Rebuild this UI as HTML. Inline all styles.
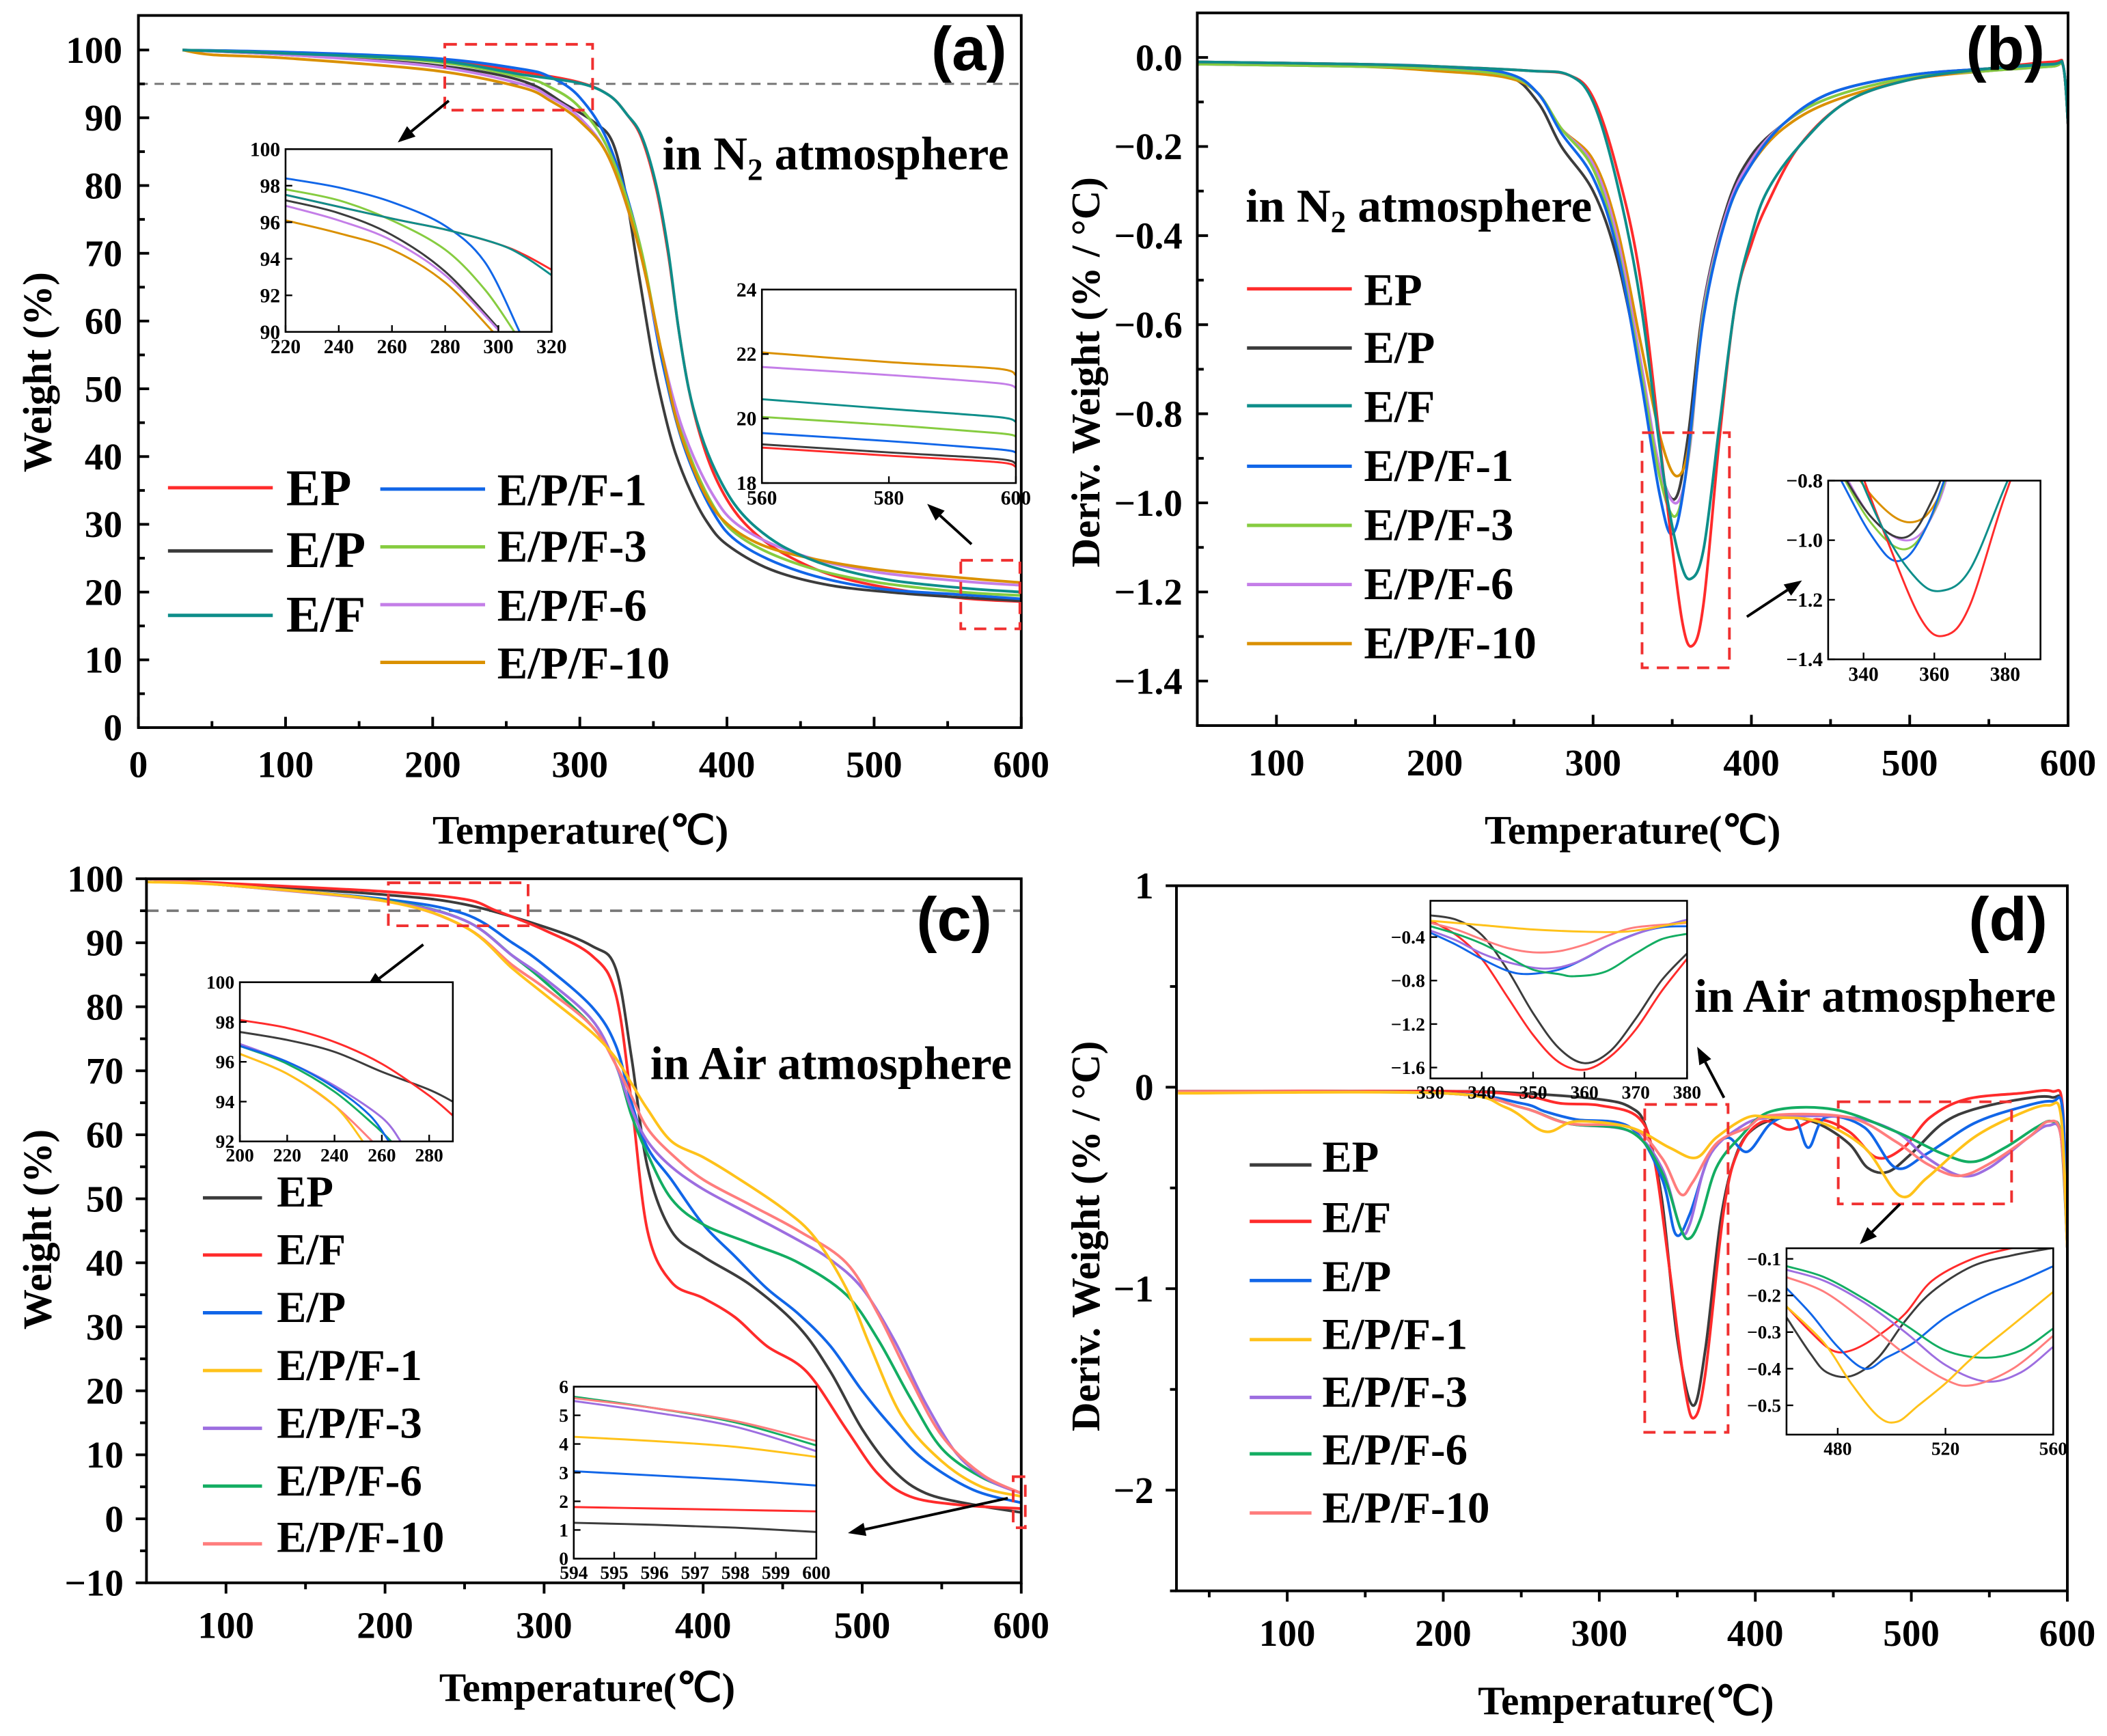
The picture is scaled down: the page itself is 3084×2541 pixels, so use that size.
<!DOCTYPE html>
<html><head><meta charset="utf-8"><title>TGA / DTG figure</title>
<style>
html,body{margin:0;padding:0;background:#fff;}
svg{display:block;}
text{font-family:"Liberation Serif",serif;font-weight:bold;fill:#000;}
.sans{font-family:"Liberation Sans",sans-serif;}
</style></head>
<body>
<svg id="fig" xmlns="http://www.w3.org/2000/svg" width="3084" height="2541" viewBox="0 0 1568 1292" preserveAspectRatio="none">
<rect x="0" y="0" width="1568" height="1292" fill="#fff"/>
<defs id="defs"></defs>
</svg>
<script>
// ===== Panel (a): TGA in N2 =====
const aEP   = [[30,100],[100,99.6],[200,98.6],[260,96.8],[300,95.2],[320,93.3],[332,90.5],[342,87],[352,79.5],[360,70],[367,59],[374,50],[382,43],[392,37],[405,32],[420,28.5],[440,25.5],[470,22.6],[510,20.6],[560,19.1],[600,18.6]];
const aEF   = [[30,100],[100,99.5],[200,98.5],[260,96.4],[300,95.1],[320,93.3],[332,90.5],[342,87.3],[352,80],[360,70.5],[367,59],[374,50],[382,43.5],[392,38],[405,33],[420,29.5],[440,26.5],[470,23.8],[510,21.8],[560,20.6],[600,20]];
const aEPo  = [[30,100],[100,99.3],[200,97.8],[260,95.5],[290,92],[310,89.3],[322,86.5],[331,79],[340,67],[350,54],[358,46],[365,40.5],[375,35],[386,30.5],[400,27],[430,23.3],[470,21],[520,19.8],[560,19.2],[600,18.7]];
const aF1   = [[30,100],[100,99.7],[200,98.8],[260,97.2],[280,96],[300,93],[320,86],[340,72],[355,55],[370,42],[390,32],[410,27],[450,23],[500,20.6],[560,19.6],[600,19]];
const aF3   = [[30,100],[100,99.5],[200,98.3],[260,96],[280,94.5],[300,91.5],[320,85],[340,72],[355,56],[370,43],[390,33],[410,28],[450,24],[500,21.5],[560,20],[600,19.5]];
const aF6   = [[30,100],[100,99.3],[200,97.6],[260,95],[280,93],[300,90],[320,84],[340,71],[355,56],[370,44],[390,34.5],[410,29.5],[450,25.5],[500,23],[560,21.6],[600,21]];
const aF10  = [[30,100],[50,99.3],[100,98.8],[200,97],[260,94.5],[280,92.5],[300,89.5],[320,84],[340,71],[356,55],[365,46],[374,40],[385,34.5],[398,30.5],[420,27.3],[450,25.3],[500,23.4],[560,22.1],[600,21.4]];
const aIn1EP  = [[220,97.5],[260,96.2],[280,95.6],[300,94.8],[310,94.2],[320,93.4]];
const aIn1EF  = [[220,97.5],[260,96.2],[280,95.6],[300,94.8],[310,94.1],[320,93.1]];
const aIn1EPo = [[220,97.2],[240,96.5],[260,95.3],[280,93.3],[300,90.2]];
const aIn1F1  = [[220,98.4],[240,97.9],[260,97.1],[280,95.8],[295,93.8],[308,90]];
const aIn1F3  = [[220,97.8],[240,97.2],[260,96.1],[280,94.5],[295,92.3],[306,90]];
const aIn1F6  = [[220,96.9],[240,96.1],[260,95],[280,93.1],[300,90.1]];
const aIn1F10 = [[220,96.1],[240,95.4],[260,94.5],[280,92.7],[298,90]];
const aIn2EP  = [[560,19.1],[580,18.85],[597,18.65],[600,18.5]];
const aIn2EPo = [[560,19.2],[580,18.95],[597,18.75],[600,18.6]];
const aIn2EF  = [[560,20.6],[580,20.3],[597,20.05],[600,19.9]];
const aIn2F1  = [[560,19.55],[580,19.3],[597,19.05],[600,18.95]];
const aIn2F3  = [[560,20.05],[580,19.8],[597,19.55],[600,19.45]];
const aIn2F6  = [[560,21.6],[580,21.35],[597,21.1],[600,20.95]];
const aIn2F10 = [[560,22.05],[580,21.75],[597,21.55],[600,21.35]];
const aXTicks = [0,100,200,300,400,500,600];
const aXLabels = ["0","100","200","300","400","500","600"];
const aYTicks = [0,10,20,30,40,50,60,70,80,90,100];
const aYLabels = ["0","10","20","30","40","50","60","70","80","90","100"];

// ===== Panel (b): DTG in N2 =====
const bEP  = [[50,-0.01],[150,-0.015],[200,-0.02],[260,-0.03],[285,-0.04],[300,-0.09],[315,-0.25],[330,-0.5],[345,-0.95],[356,-1.26],[363,-1.32],[370,-1.22],[380,-0.85],[390,-0.55],[400,-0.42],[410,-0.33],[430,-0.2],[460,-0.1],[500,-0.05],[550,-0.025],[590,-0.01],[597,-0.02],[600,-0.15]];
const bEF  = [[50,-0.01],[150,-0.015],[200,-0.02],[260,-0.03],[285,-0.04],[300,-0.1],[315,-0.28],[330,-0.55],[345,-0.95],[355,-1.13],[362,-1.17],[370,-1.1],[380,-0.82],[390,-0.55],[400,-0.4],[410,-0.3],[430,-0.2],[460,-0.1],[500,-0.05],[550,-0.025],[590,-0.015],[597,-0.02],[600,-0.15]];
const bEPo = [[50,-0.015],[150,-0.02],[200,-0.025],[245,-0.04],[265,-0.1],[280,-0.2],[300,-0.3],[315,-0.45],[330,-0.7],[342,-0.92],[352,-0.99],[360,-0.85],[370,-0.55],[385,-0.33],[400,-0.22],[420,-0.15],[450,-0.08],[500,-0.04],[550,-0.025],[590,-0.015],[597,-0.02],[600,-0.15]];
const bF1  = [[50,-0.01],[150,-0.015],[200,-0.02],[245,-0.035],[265,-0.08],[280,-0.17],[300,-0.27],[315,-0.43],[330,-0.72],[342,-0.98],[350,-1.07],[358,-0.95],[370,-0.58],[385,-0.35],[400,-0.24],[420,-0.15],[450,-0.08],[500,-0.04],[550,-0.025],[590,-0.015],[597,-0.02],[600,-0.15]];
const bF3  = [[50,-0.015],[150,-0.02],[200,-0.025],[245,-0.04],[265,-0.08],[280,-0.16],[300,-0.25],[315,-0.42],[330,-0.7],[342,-0.94],[352,-1.03],[360,-0.9],[370,-0.57],[385,-0.35],[400,-0.24],[420,-0.15],[450,-0.09],[500,-0.045],[550,-0.03],[590,-0.02],[597,-0.02],[600,-0.15]];
const bF6  = [[50,-0.015],[150,-0.02],[200,-0.025],[245,-0.04],[265,-0.08],[280,-0.16],[300,-0.24],[315,-0.4],[330,-0.68],[342,-0.92],[353,-1.0],[361,-0.88],[370,-0.56],[385,-0.34],[400,-0.23],[420,-0.15],[450,-0.09],[500,-0.045],[550,-0.03],[590,-0.02],[597,-0.02],[600,-0.15]];
const bF10 = [[50,-0.05],[53,-0.015],[150,-0.02],[200,-0.03],[245,-0.045],[265,-0.08],[280,-0.16],[300,-0.23],[315,-0.38],[330,-0.64],[343,-0.86],[353,-0.94],[361,-0.86],[370,-0.56],[385,-0.34],[400,-0.24],[420,-0.16],[450,-0.1],[500,-0.05],[550,-0.03],[590,-0.02],[597,-0.02],[600,-0.15]];
const bXTicks = [100,200,300,400,500,600];
const bXLabels = ["100","200","300","400","500","600"];
const bYTicks = [0,-0.2,-0.4,-0.6,-0.8,-1.0,-1.2,-1.4];
const bYLabels = ["0.0","\u22120.2","\u22120.4","\u22120.6","\u22120.8","\u22121.0","\u22121.2","\u22121.4"];
const bInXTicks = [340,360,380];
const bInXLabels = ["340","360","380"];
const bInYTicks = [-0.8,-1.0,-1.2,-1.4];
const bInYLabels = ["\u22120.8","\u22121.0","\u22121.2","\u22121.4"];

// ===== Panel (c): TGA in Air =====
const cEP  = [[50,100],[100,99.2],[200,97.5],[250,96],[300,92.5],[330,89.5],[345,86],[355,72],[365,55],[380,45],[400,41],[430,36.5],[460,30],[480,23],[500,14],[520,7.5],[540,4],[570,2.2],[600,1.0]];
const cEF  = [[50,100],[100,99.3],[200,98],[250,96.8],[270,95],[300,92],[330,88],[345,82],[355,65],[365,45],[380,37],[400,34.5],[420,31.5],[440,27],[465,23],[490,14],[510,7],[530,3.5],[560,2.2],[600,1.6]];
const cEPo = [[50,100],[100,99],[200,96.8],[250,94.5],[280,90],[300,86.5],[330,80],[345,74],[355,65],[365,58],[380,53],[400,46],[420,41],[440,36],[460,32],[480,27],[500,20],[520,14],[540,9],[570,4.5],[600,2.5]];
const cF1  = [[50,99.5],[100,99],[200,96.5],[250,92.5],[280,86],[300,82],[330,76],[345,72],[355,68],[365,64],[380,59],[400,56.5],[420,53.5],[450,48.5],[470,44],[490,36],[505,27],[525,16],[550,9],[575,5],[600,3.5]];
const cF3  = [[50,100],[100,99],[200,96.5],[250,93.5],[280,88],[300,84.5],[330,78],[345,71],[355,64],[365,59],[380,55],[400,51.5],[430,47.5],[460,43.5],[480,40.5],[500,36],[520,28],[540,18],[560,10],[580,6],[600,4]];
const cF6  = [[50,100],[100,99],[200,96.6],[250,93.5],[280,88],[300,84],[330,77],[345,71],[355,63],[365,57],[380,50],[400,46],[430,43],[460,40],[490,35],[510,28],[530,19],[550,11],[575,6.5],[600,4]];
const cF10 = [[50,100],[100,99],[200,96.5],[250,92.5],[280,86.5],[300,83],[330,77],[345,71],[355,66],[365,61],[380,57],[400,53],[430,49],[460,45],[490,40],[510,32],[530,22],[550,13],[575,7],[600,4]];
const cIn1EP  = [[200,97.5],[220,97.1],[240,96.5],[260,95.5],[280,94.6],[290,94]];
const cIn1EF  = [[200,98.1],[220,97.7],[240,97],[260,95.9],[280,94.3],[290,93.3]];
const cIn1EPo = [[200,96.8],[220,96],[240,94.7],[255,93.3],[263,92]];
const cIn1F1  = [[200,96.4],[220,95.4],[240,93.8],[252,92]];
const cIn1F3  = [[200,96.9],[220,96],[240,94.8],[260,93.2],[268,92]];
const cIn1F6  = [[200,96.8],[220,95.9],[240,94.5],[257,92.8],[264,92]];
const cIn1F10 = [[200,96.4],[220,95.4],[240,93.8],[256,92]];
const cIn2EP  = [[594,1.25],[596,1.18],[598,1.08],[600,0.93]];
const cIn2EF  = [[594,1.8],[596,1.75],[598,1.7],[600,1.65]];
const cIn2EPo = [[594,3.05],[596,2.9],[598,2.75],[600,2.55]];
const cIn2F1  = [[594,4.25],[596,4.1],[598,3.9],[600,3.55]];
const cIn2F3  = [[594,5.5],[596,5.1],[598,4.6],[600,3.75]];
const cIn2F6  = [[594,5.65],[596,5.25],[598,4.75],[600,3.95]];
const cIn2F10 = [[594,5.6],[596,5.25],[598,4.8],[600,4.1]];
const cXTicks = [100,200,300,400,500,600];
const cXLabels = ["100","200","300","400","500","600"];
const cYTicks = [-10,0,10,20,30,40,50,60,70,80,90,100];
const cYLabels = ["\u221210","0","10","20","30","40","50","60","70","80","90","100"];

// ===== Panel (d): DTG in Air =====
const dEP  = [[30,-0.02],[200,-0.02],[250,-0.03],[300,-0.06],[320,-0.1],[330,-0.2],[340,-0.55],[350,-1.25],[360,-1.58],[368,-1.3],[378,-0.65],[388,-0.33],[400,-0.2],[420,-0.15],[440,-0.18],[460,-0.28],[472,-0.4],[485,-0.42],[500,-0.33],[520,-0.18],[540,-0.11],[570,-0.06],[590,-0.05],[597,-0.12],[600,-0.8]];
const dEF  = [[30,-0.02],[200,-0.02],[250,-0.04],[275,-0.08],[300,-0.09],[325,-0.15],[335,-0.35],[345,-0.9],[355,-1.5],[361,-1.64],[368,-1.42],[380,-0.6],[390,-0.3],[405,-0.17],[422,-0.21],[440,-0.16],[460,-0.22],[478,-0.35],[495,-0.3],[512,-0.15],[535,-0.06],[570,-0.03],[590,-0.02],[597,-0.1],[600,-0.8]];
const dEPo = [[30,-0.02],[200,-0.03],[250,-0.08],[265,-0.12],[285,-0.16],[320,-0.2],[340,-0.45],[349,-0.73],[358,-0.63],[370,-0.35],[382,-0.25],[395,-0.32],[410,-0.18],[425,-0.15],[434,-0.3],[445,-0.15],[470,-0.2],[490,-0.4],[510,-0.33],[540,-0.18],[570,-0.1],[590,-0.07],[597,-0.12],[600,-0.8]];
const dF1  = [[30,-0.03],[200,-0.03],[240,-0.1],[265,-0.22],[285,-0.17],[320,-0.2],[345,-0.3],[362,-0.35],[375,-0.25],[395,-0.15],[410,-0.15],[440,-0.17],[470,-0.3],[493,-0.54],[510,-0.45],[540,-0.25],[570,-0.13],[588,-0.09],[596,-0.15],[600,-0.8]];
const dF3  = [[30,-0.02],[200,-0.03],[250,-0.1],[280,-0.18],[320,-0.22],[340,-0.4],[352,-0.7],[358,-0.68],[370,-0.35],[390,-0.2],[410,-0.15],[460,-0.15],[490,-0.22],[510,-0.35],[532,-0.44],[550,-0.4],[575,-0.25],[588,-0.19],[596,-0.25],[600,-0.8]];
const dF6  = [[30,-0.02],[200,-0.03],[250,-0.1],[280,-0.18],[320,-0.22],[340,-0.42],[352,-0.7],[358,-0.75],[365,-0.65],[375,-0.4],[390,-0.25],[410,-0.12],[450,-0.11],[490,-0.22],[520,-0.33],[540,-0.37],[560,-0.3],[580,-0.2],[590,-0.17],[596,-0.25],[600,-0.8]];
const dF10 = [[30,-0.02],[200,-0.03],[250,-0.1],[280,-0.18],[320,-0.2],[340,-0.35],[352,-0.53],[360,-0.47],[375,-0.28],[395,-0.2],[410,-0.14],[460,-0.15],[490,-0.27],[510,-0.38],[530,-0.44],[550,-0.38],[575,-0.25],[588,-0.17],[596,-0.25],[600,-0.8]];
const dIn1EP  = [[330,-0.2],[335,-0.24],[340,-0.38],[345,-0.7],[350,-1.1],[355,-1.42],[360,-1.56],[365,-1.45],[370,-1.15],[375,-0.8],[380,-0.55]];
const dIn1EF  = [[330,-0.25],[335,-0.38],[340,-0.6],[345,-0.95],[350,-1.3],[355,-1.55],[360,-1.62],[365,-1.5],[370,-1.25],[375,-0.9],[380,-0.6]];
const dIn1EPo = [[330,-0.36],[335,-0.47],[340,-0.6],[345,-0.71],[349,-0.74],[355,-0.7],[360,-0.6],[365,-0.47],[370,-0.37],[375,-0.31],[380,-0.3]];
const dIn1F1  = [[330,-0.25],[340,-0.29],[350,-0.33],[360,-0.35],[368,-0.35],[375,-0.3],[380,-0.26]];
const dIn1F3  = [[330,-0.34],[335,-0.43],[340,-0.55],[345,-0.63],[352,-0.69],[358,-0.64],[365,-0.47],[372,-0.34],[380,-0.24]];
const dIn1F6  = [[330,-0.3],[335,-0.37],[340,-0.46],[345,-0.58],[350,-0.7],[355,-0.74],[358,-0.76],[364,-0.72],[370,-0.55],[375,-0.42],[380,-0.37]];
const dIn1F10 = [[330,-0.27],[335,-0.33],[340,-0.42],[345,-0.5],[350,-0.54],[355,-0.53],[360,-0.47],[365,-0.38],[370,-0.31],[380,-0.27]];
const dIn2EP  = [[461,-0.26],[470,-0.36],[476,-0.41],[485,-0.42],[495,-0.37],[505,-0.27],[515,-0.19],[530,-0.12],[545,-0.09],[560,-0.07]];
const dIn2EF  = [[461,-0.23],[470,-0.3],[478,-0.35],[485,-0.35],[495,-0.31],[505,-0.25],[515,-0.16],[530,-0.1],[545,-0.07],[560,-0.05]];
const dIn2EPo = [[461,-0.18],[470,-0.25],[480,-0.34],[490,-0.4],[498,-0.37],[508,-0.33],[520,-0.26],[535,-0.2],[548,-0.16],[560,-0.12]];
const dIn2F1  = [[461,-0.23],[475,-0.33],[485,-0.44],[495,-0.53],[502,-0.545],[510,-0.5],[520,-0.44],[530,-0.37],[545,-0.28],[560,-0.19]];
const dIn2F3  = [[461,-0.13],[475,-0.16],[490,-0.22],[505,-0.3],[520,-0.39],[535,-0.435],[548,-0.41],[560,-0.34]];
const dIn2F6  = [[461,-0.12],[475,-0.15],[490,-0.21],[505,-0.28],[520,-0.35],[535,-0.37],[548,-0.35],[560,-0.29]];
const dIn2F10 = [[461,-0.15],[475,-0.19],[490,-0.27],[505,-0.36],[520,-0.43],[530,-0.445],[545,-0.4],[560,-0.31]];
const dXTicks = [100,200,300,400,500,600];
const dXLabels = ["100","200","300","400","500","600"];
const dYTicks = [1,0,-1,-2];
const dYLabels = ["1","0","\u22121","\u22122"];

const NS = "http://www.w3.org/2000/svg";
const svg = document.getElementById('fig');
const defs = document.getElementById('defs');
let clipId = 0;

function mk(tag, attrs, parent) {
  const e = document.createElementNS(NS, tag);
  for (const k in attrs) e.setAttribute(k, attrs[k]);
  (parent || svg).appendChild(e);
  return e;
}
function scale(cfg) {
  cfg.sx = v => cfg.x0 + (v - cfg.xmin) / (cfg.xmax - cfg.xmin) * (cfg.x1 - cfg.x0);
  cfg.sy = v => cfg.y1 - (v - cfg.ymin) / (cfg.ymax - cfg.ymin) * (cfg.y1 - cfg.y0);
  clipId++;
  cfg.clip = 'clip' + clipId;
  const cp = mk('clipPath', {id: cfg.clip}, defs);
  mk('rect', {x: cfg.x0, y: cfg.y0, width: cfg.x1 - cfg.x0, height: cfg.y1 - cfg.y0}, cp);
  return cfg;
}
function smoothPath(pts) {
  let d = 'M' + pts[0][0].toFixed(2) + ',' + pts[0][1].toFixed(2);
  for (let i = 0; i < pts.length - 1; i++) {
    const p0 = pts[i - 1] || pts[i], p1 = pts[i], p2 = pts[i + 1], p3 = pts[i + 2] || p2;
    const c1x = p1[0] + (p2[0] - p0[0]) / 6, c1y = p1[1] + (p2[1] - p0[1]) / 6;
    const c2x = p2[0] - (p3[0] - p1[0]) / 6, c2y = p2[1] - (p3[1] - p1[1]) / 6;
    d += 'C' + c1x.toFixed(2) + ',' + c1y.toFixed(2) + ' ' + c2x.toFixed(2) + ',' + c2y.toFixed(2) + ' ' + p2[0].toFixed(2) + ',' + p2[1].toFixed(2);
  }
  return d;
}
function series(cfg, data, color, name, w) {
  const pts = data.map(p => [cfg.sx(p[0]), cfg.sy(p[1])]);
  const e = mk('path', {d: smoothPath(pts), fill: 'none', stroke: color, 'stroke-width': w || 2, 'stroke-linejoin': 'round', 'clip-path': 'url(#' + cfg.clip + ')'});
  
  
  return e;
}
function txt(x, y, s, size, anchor, name, cls) {
  const t = mk('text', {x: x, y: y, 'font-size': size, 'text-anchor': anchor || 'start'});
  if (cls) t.setAttribute('class', cls);
  t.textContent = s;
  
  
  return t;
}
function line(x1, y1, x2, y2, color, w, dash, name) {
  const e = mk('line', {x1: x1, y1: y1, x2: x2, y2: y2, stroke: color, 'stroke-width': w});
  if (dash) e.setAttribute('stroke-dasharray', dash);
  
  
  return e;
}
function frame(cfg, name, sw) {
  const r = mk('rect', {x: cfg.x0, y: cfg.y0, width: cfg.x1 - cfg.x0, height: cfg.y1 - cfg.y0, fill: 'none', stroke: '#000', 'stroke-width': sw || 2});
  
  
}
function ticks(cfg, xt, xl, yt, yl, opt) {
  const dir = opt.out ? 1 : -1;
  const L = opt.len || 8;
  xt.forEach((v, i) => {
    const x = cfg.sx(v);
    line(x, cfg.y1, x, cfg.y1 + dir * L, '#000', opt.tw || 2, null, 'x-tick');
    txt(x, cfg.y1 + opt.xoff, xl[i], opt.fs, 'middle', 'x-tick-label');
  });
  (opt.xminor || []).forEach(v => {
    const x = cfg.sx(v);
    line(x, cfg.y1, x, cfg.y1 + dir * L * 0.6, '#000', opt.tw || 2, null, 'x-minor-tick');
  });
  yt.forEach((v, i) => {
    const y = cfg.sy(v);
    line(cfg.x0, y, cfg.x0 - dir * L, y, '#000', opt.tw || 2, null, 'y-tick');
    txt(cfg.x0 - opt.yoff, y + opt.fs * 0.34, yl[i], opt.fs, 'end', 'y-tick-label');
  });
  (opt.yminor || []).forEach(v => {
    const y = cfg.sy(v);
    line(cfg.x0, y, cfg.x0 - dir * L * 0.6, y, '#000', opt.tw || 2, null, 'y-minor-tick');
  });
}
function redBox(x0, y0, x1, y1, name) {
  const r = mk('rect', {x: x0, y: y0, width: x1 - x0, height: y1 - y0, fill: 'none', stroke: '#f03030', 'stroke-width': 2, 'stroke-dasharray': '9,6'});
  
  
}
function arrow(x1, y1, x2, y2, name) {
  const g = mk('g', {});
  
  
  const a = Math.atan2(y2 - y1, x2 - x1), L = 13, W = 5;
  const bx = x2 - L * Math.cos(a), by = y2 - L * Math.sin(a);
  mk('line', {x1: x1, y1: y1, x2: bx, y2: by, stroke: '#000', 'stroke-width': 2}, g);
  mk('polygon', {points: x2 + ',' + y2 + ' ' + (bx + W * Math.sin(a)) + ',' + (by - W * Math.cos(a)) + ' ' + (bx - W * Math.sin(a)) + ',' + (by + W * Math.cos(a)), fill: '#000'}, g);
}
function legend(x0, x1, lineYs, labelX, baseYs, labels, colors, fs, prefix) {
  labels.forEach((s, i) => {
    line(x0, lineYs[i], x1, lineYs[i], colors[i], 2.5, null, prefix + '-legend-line');
    txt(labelX, baseYs[i], s, fs, 'start', prefix + '-legend-label');
  });
}
function range(a, b, s) { const r = []; for (let v = a; v <= b + 1e-9; v += s) r.push(+v.toFixed(6)); return r; }
function rotTitle(x, y, s, size, name) {
  const t = txt(x, y, s, size, 'middle', name);
  t.setAttribute('transform', 'rotate(-90 ' + x + ' ' + y + ')');
}

const C = {red:'#ff2b2b', blk:'#3c3c3c', teal:'#0e8e8a', blue:'#1166e8', lgreen:'#86cc40', lpur:'#c47ee8', orange:'#da9000',
           yel:'#ffc21a', pur:'#9d6ee0', grn:'#13ad62', pink:'#ff7d7d'};

// ---------- Panel a ----------
const A = scale({x0:103, x1:760, y0:11.5, y1:541.5, xmin:0, xmax:600, ymin:0, ymax:105.1});
line(A.x0, A.sy(95), A.x1, A.sy(95), '#777', 1.5, '7,5', 'a-95-percent-line');
series(A, aEP, C.red, 'a-series-ep');
series(A, aEPo, C.blk, 'a-series-ep-p');
series(A, aF1, C.blue, 'a-series-epf1');
series(A, aF3, C.lgreen, 'a-series-epf3');
series(A, aF6, C.lpur, 'a-series-epf6');
series(A, aF10, C.orange, 'a-series-epf10');
series(A, aEF, C.teal, 'a-series-ef');
frame(A, 'a-plot-frame');
ticks(A, aXTicks, aXLabels, aYTicks, aYLabels, {out:false, fs:28, xoff:37, yoff:12, xminor:range(50,550,100), yminor:range(5,95,10)});
txt(693, 52, '(a)', 46, 'start', 'a-panel-label', 'sans');
{ const t = txt(493, 126, 'in N', 35, 'start', 'a-atmosphere-label');
  const s = mk('tspan', {dy: 8, 'font-size': 23}, t); s.textContent = '2';
  const s2 = mk('tspan', {dy: -8}, t); s2.textContent = ' atmosphere'; }
legend(125, 203, [363,410,458], 213, [376,422,470], ['EP','E/P','E/F'], [C.red,C.blk,C.teal], 38, 'a');
legend(283, 361, [364,407,450,493], 370, [376,418,462,505], ['E/P/F-1','E/P/F-3','E/P/F-6','E/P/F-10'], [C.blue,C.lgreen,C.lpur,C.orange], 34, 'a');
txt(432, 628, 'Temperature(\u2103)', 30, 'middle', 'a-x-axis-title');
rotTitle(38, 277, 'Weight (%)', 30, 'a-y-axis-title');
redBox(331, 33, 441, 82, 'a-zoom-box-onset');
redBox(715, 417, 759, 468, 'a-zoom-box-residue');
arrow(334, 75, 296, 106, 'a-arrow-inset1');
arrow(723, 405, 690, 375, 'a-arrow-inset2');
// inset a1
const A1 = scale({x0:212.5, x1:410.5, y0:111, y1:247, xmin:220, xmax:320, ymin:90, ymax:100});
mk('rect', {x:A1.x0, y:A1.y0, width:A1.x1-A1.x0, height:A1.y1-A1.y0, fill:'#fff'});
series(A1, aIn1EPo, C.blk, 'a-inset1-ep-p', 1.5);
series(A1, aIn1F6, C.lpur, 'a-inset1-epf6', 1.5);
series(A1, aIn1F10, C.orange, 'a-inset1-epf10', 1.5);
series(A1, aIn1F3, C.lgreen, 'a-inset1-epf3', 1.5);
series(A1, aIn1F1, C.blue, 'a-inset1-epf1', 1.5);
series(A1, aIn1EP, C.red, 'a-inset1-ep', 1.5);
series(A1, aIn1EF, C.teal, 'a-inset1-ef', 1.5);
frame(A1, 'a-inset1-frame', 1.3);
ticks(A1, range(220,320,20), ['220','240','260','280','300','320'], range(90,100,2), ['90','92','94','96','98','100'], {out:false, len:5, tw:1.2, fs:15, xoff:16, yoff:4});
// inset a2
const A2 = scale({x0:567, x1:756, y0:215.5, y1:359.5, xmin:560, xmax:600, ymin:18, ymax:24});
mk('rect', {x:A2.x0, y:A2.y0, width:A2.x1-A2.x0, height:A2.y1-A2.y0, fill:'#fff'});
series(A2, aIn2F10, C.orange, 'a-inset2-epf10', 1.5);
series(A2, aIn2F6, C.lpur, 'a-inset2-epf6', 1.5);
series(A2, aIn2EF, C.teal, 'a-inset2-ef', 1.5);
series(A2, aIn2F3, C.lgreen, 'a-inset2-epf3', 1.5);
series(A2, aIn2F1, C.blue, 'a-inset2-epf1', 1.5);
series(A2, aIn2EPo, C.blk, 'a-inset2-ep-p', 1.5);
series(A2, aIn2EP, C.red, 'a-inset2-ep', 1.5);
frame(A2, 'a-inset2-frame', 1.3);
ticks(A2, [560,580,600], ['560','580','600'], [18,20,22,24], ['18','20','22','24'], {out:false, len:5, tw:1.2, fs:15, xoff:16, yoff:4});

// ---------- Panel b ----------
const B = scale({x0:891, x1:1539, y0:9.6, y1:540, xmin:50, xmax:600, ymin:-1.5, ymax:0.1});
series(B, bEPo, C.blk, 'b-series-ep-p');
series(B, bF10, C.orange, 'b-series-epf10');
series(B, bF6, C.lpur, 'b-series-epf6');
series(B, bF3, C.lgreen, 'b-series-epf3');
series(B, bF1, C.blue, 'b-series-epf1');
series(B, bEP, C.red, 'b-series-ep');
series(B, bEF, C.teal, 'b-series-ef');
frame(B, 'b-plot-frame');
ticks(B, bXTicks, bXLabels, bYTicks, bYLabels, {out:false, fs:28, xoff:37, yoff:11, xminor:range(150,550,100), yminor:range(-1.5,-0.1,0.2)});
txt(1463, 52, '(b)', 46, 'start', 'b-panel-label', 'sans');
{ const t = txt(927, 165, 'in N', 35, 'start', 'b-atmosphere-label');
  const s = mk('tspan', {dy: 8, 'font-size': 23}, t); s.textContent = '2';
  const s2 = mk('tspan', {dy: -8}, t); s2.textContent = ' atmosphere'; }
legend(928, 1006, [215,259,302,347,391,435,479], 1015, [227,270,314,358,402,446,490], ['EP','E/P','E/F','E/P/F-1','E/P/F-3','E/P/F-6','E/P/F-10'], [C.red,C.blk,C.teal,C.blue,C.lgreen,C.lpur,C.orange], 34, 'b');
txt(1215, 628, 'Temperature(\u2103)', 30, 'middle', 'b-x-axis-title');
rotTitle(818, 277, 'Deriv. Weight (% / \u00b0C)', 30, 'b-y-axis-title');
redBox(1222, 322, 1287, 497, 'b-zoom-box-peak');
arrow(1300, 459, 1341, 432, 'b-arrow-inset');
const B1 = scale({x0:1360.5, x1:1518.5, y0:357.7, y1:490.7, xmin:330, xmax:390, ymin:-1.4, ymax:-0.8});
mk('rect', {x:B1.x0, y:B1.y0, width:B1.x1-B1.x0, height:B1.y1-B1.y0, fill:'#fff'});
series(B1, bF10, C.orange, 'b-inset-epf10', 1.5);
series(B1, bF6, C.lpur, 'b-inset-epf6', 1.5);
series(B1, bF3, C.lgreen, 'b-inset-epf3', 1.5);
series(B1, bF1, C.blue, 'b-inset-epf1', 1.5);
series(B1, bEPo, C.blk, 'b-inset-ep-p', 1.5);
series(B1, bEP, C.red, 'b-inset-ep', 1.5);
series(B1, bEF, C.teal, 'b-inset-ef', 1.5);
frame(B1, 'b-inset-frame', 1.3);
ticks(B1, bInXTicks, bInXLabels, bInYTicks, bInYLabels, {out:false, len:5, tw:1.2, fs:15, xoff:16, yoff:4});

// ---------- Panel c ----------
const C3 = scale({x0:109, x1:760, y0:654, y1:1178, xmin:50, xmax:600, ymin:-10, ymax:100});
line(C3.x0, C3.sy(95), C3.x1, C3.sy(95), '#777', 1.8, '9,6', 'c-95-percent-line');
series(C3, cEP, C.blk, 'c-series-ep');
series(C3, cEF, C.red, 'c-series-ef');
series(C3, cEPo, C.blue, 'c-series-ep-p');
series(C3, cF6, C.grn, 'c-series-epf6');
series(C3, cF3, C.pur, 'c-series-epf3');
series(C3, cF10, C.pink, 'c-series-epf10');
series(C3, cF1, C.yel, 'c-series-epf1');
frame(C3, 'c-plot-frame');
ticks(C3, cXTicks, cXLabels, cYTicks, cYLabels, {out:true, fs:28, xoff:41, yoff:17, xminor:range(150,550,100), yminor:range(-5,95,10)});
txt(682, 700, '(c)', 46, 'start', 'c-panel-label', 'sans');
txt(484, 803, 'in Air atmosphere', 35, 'start', 'c-atmosphere-label');
legend(151, 195, [891.5,934,977,1020,1063,1106,1149], 206, [898,941,984,1027,1070,1113,1155], ['EP','E/F','E/P','E/P/F-1','E/P/F-3','E/P/F-6','E/P/F-10'], [C.blk,C.red,C.blue,C.yel,C.pur,C.grn,C.pink], 33, 'c');
txt(437, 1266, 'Temperature(\u2103)', 30, 'middle', 'c-x-axis-title');
rotTitle(38, 915, 'Weight (%)', 30, 'c-y-axis-title');
redBox(289, 657, 393, 689, 'c-zoom-box-onset');
redBox(754, 1099, 763, 1137, 'c-zoom-box-residue');
arrow(315, 703, 272, 736, 'c-arrow-inset1');
arrow(750, 1115, 631, 1141, 'c-arrow-inset2');
const C1 = scale({x0:178.5, x1:337, y0:731, y1:849.5, xmin:200, xmax:290, ymin:92, ymax:100});
mk('rect', {x:C1.x0, y:C1.y0, width:C1.x1-C1.x0, height:C1.y1-C1.y0, fill:'#fff'});
series(C1, cIn1EP, C.blk, 'c-inset1-ep', 1.5);
series(C1, cIn1F3, C.pur, 'c-inset1-epf3', 1.5);
series(C1, cIn1F6, C.grn, 'c-inset1-epf6', 1.5);
series(C1, cIn1EPo, C.blue, 'c-inset1-ep-p', 1.5);
series(C1, cIn1F10, C.pink, 'c-inset1-epf10', 1.5);
series(C1, cIn1F1, C.yel, 'c-inset1-epf1', 1.5);
series(C1, cIn1EF, C.red, 'c-inset1-ef', 1.5);
frame(C1, 'c-inset1-frame', 1.3);
ticks(C1, range(200,280,20), ['200','220','240','260','280'], range(92,100,2), ['92','94','96','98','100'], {out:false, len:5, tw:1.2, fs:14, xoff:15, yoff:4});
const C2 = scale({x0:427, x1:607.5, y0:1032, y1:1160, xmin:594, xmax:600, ymin:0, ymax:6});
mk('rect', {x:C2.x0, y:C2.y0, width:C2.x1-C2.x0, height:C2.y1-C2.y0, fill:'#fff'});
series(C2, cIn2EP, C.blk, 'c-inset2-ep', 1.5);
series(C2, cIn2EF, C.red, 'c-inset2-ef', 1.5);
series(C2, cIn2EPo, C.blue, 'c-inset2-ep-p', 1.5);
series(C2, cIn2F1, C.yel, 'c-inset2-epf1', 1.5);
series(C2, cIn2F3, C.pur, 'c-inset2-epf3', 1.5);
series(C2, cIn2F6, C.grn, 'c-inset2-epf6', 1.5);
series(C2, cIn2F10, C.pink, 'c-inset2-epf10', 1.5);
frame(C2, 'c-inset2-frame', 1.3);
ticks(C2, range(594,600,1), ['594','595','596','597','598','599','600'], range(0,6,1), ['0','1','2','3','4','5','6'], {out:false, len:5, tw:1.2, fs:14, xoff:15, yoff:4});

// ---------- Panel d ----------
const D = scale({x0:875.5, x1:1538.5, y0:659.2, y1:1184, xmin:29, xmax:600, ymin:-2.5, ymax:1});
series(D, dEP, C.blk, 'd-series-ep');
series(D, dEF, C.red, 'd-series-ef');
series(D, dEPo, C.blue, 'd-series-ep-p');
series(D, dF3, C.pur, 'd-series-epf3');
series(D, dF6, C.grn, 'd-series-epf6');
series(D, dF10, C.pink, 'd-series-epf10');
series(D, dF1, C.yel, 'd-series-epf1');
frame(D, 'd-plot-frame');
ticks(D, dXTicks, dXLabels, dYTicks, dYLabels, {out:true, fs:28, xoff:41, yoff:17, xminor:range(50,550,100), yminor:[0.5,-0.5,-1.5,-2.5]});
txt(1465, 700, '(d)', 46, 'start', 'd-panel-label', 'sans');
txt(1261, 753, 'in Air atmosphere', 35, 'start', 'd-atmosphere-label');
legend(930, 976, [867,909,953,997,1040,1082,1126], 984, [872,917,961,1004,1047,1090,1133], ['EP','E/F','E/P','E/P/F-1','E/P/F-3','E/P/F-6','E/P/F-10'], [C.blk,C.red,C.blue,C.yel,C.pur,C.grn,C.pink], 33, 'd');
txt(1210, 1276, 'Temperature(\u2103)', 30, 'middle', 'd-x-axis-title');
rotTitle(818, 920, 'Deriv. Weight (% / \u00b0C)', 30, 'd-y-axis-title');
redBox(1224, 822, 1286, 1066, 'd-zoom-box-main-peak');
redBox(1368, 820, 1497, 896, 'd-zoom-box-second-peak');
arrow(1283, 817, 1263, 779, 'd-arrow-inset1');
arrow(1414, 896, 1384, 926, 'd-arrow-inset2');
const D1 = scale({x0:1064.5, x1:1255.5, y0:670.4, y1:802.6, xmin:330, xmax:380, ymin:-1.7, ymax:-0.066});
mk('rect', {x:D1.x0, y:D1.y0, width:D1.x1-D1.x0, height:D1.y1-D1.y0, fill:'#fff'});
series(D1, dIn1EP, C.blk, 'd-inset1-ep', 1.5);
series(D1, dIn1EF, C.red, 'd-inset1-ef', 1.5);
series(D1, dIn1EPo, C.blue, 'd-inset1-ep-p', 1.5);
series(D1, dIn1F3, C.pur, 'd-inset1-epf3', 1.5);
series(D1, dIn1F6, C.grn, 'd-inset1-epf6', 1.5);
series(D1, dIn1F10, C.pink, 'd-inset1-epf10', 1.5);
series(D1, dIn1F1, C.yel, 'd-inset1-epf1', 1.5);
frame(D1, 'd-inset1-frame', 1.3);
ticks(D1, range(330,380,10), ['330','340','350','360','370','380'], [-0.4,-0.8,-1.2,-1.6], ['\u22120.4','\u22120.8','\u22121.2','\u22121.6'], {out:false, len:5, tw:1.2, fs:14, xoff:15, yoff:4});
const D2 = scale({x0:1329.5, x1:1528, y0:929, y1:1067.7, xmin:461, xmax:560, ymin:-0.58, ymax:-0.071});
mk('rect', {x:D2.x0, y:D2.y0, width:D2.x1-D2.x0, height:D2.y1-D2.y0, fill:'#fff'});
series(D2, dIn2EP, C.blk, 'd-inset2-ep', 1.5);
series(D2, dIn2EF, C.red, 'd-inset2-ef', 1.5);
series(D2, dIn2EPo, C.blue, 'd-inset2-ep-p', 1.5);
series(D2, dIn2F3, C.pur, 'd-inset2-epf3', 1.5);
series(D2, dIn2F6, C.grn, 'd-inset2-epf6', 1.5);
series(D2, dIn2F10, C.pink, 'd-inset2-epf10', 1.5);
series(D2, dIn2F1, C.yel, 'd-inset2-epf1', 1.5);
frame(D2, 'd-inset2-frame', 1.3);
ticks(D2, [480,520,560], ['480','520','560'], [-0.1,-0.2,-0.3,-0.4,-0.5], ['\u22120.1','\u22120.2','\u22120.3','\u22120.4','\u22120.5'], {out:false, len:5, tw:1.2, fs:14, xoff:15, yoff:4});
</script>
</body></html>
